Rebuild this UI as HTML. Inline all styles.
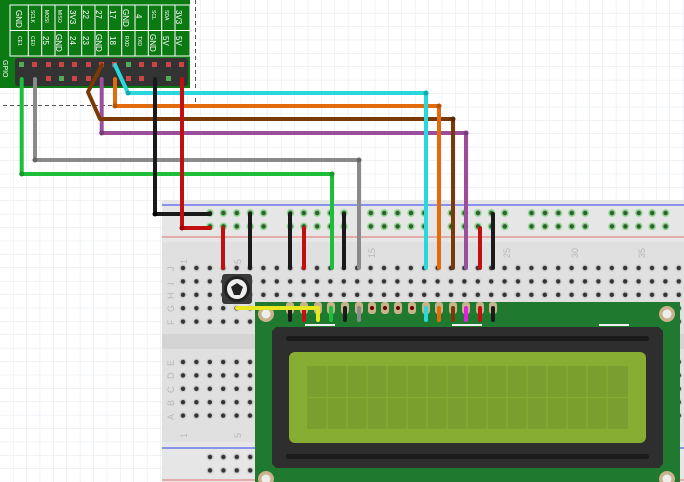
<!DOCTYPE html>
<html><head><meta charset="utf-8"><style>
html,body{margin:0;padding:0;background:#fff;}
svg{display:block;font-family:"Liberation Sans",sans-serif;}
</style></head><body>
<svg width="684" height="482" viewBox="0 0 684 482" xmlns="http://www.w3.org/2000/svg">
<defs>
<pattern id="grid" width="13.4" height="13.4" patternUnits="userSpaceOnUse" x="0" y="0">
<path d="M13.4 0V13.4M0 13.4H13.4" stroke="#e1e6ee" stroke-width="1" fill="none"/>
</pattern>
<pattern id="th1" width="13.4" height="13.4" patternUnits="userSpaceOnUse" x="176.3" y="261.3">
<circle cx="6.7" cy="6.7" r="3.6" fill="#cfcfcf"/><circle cx="6.7" cy="6.7" r="2.2" fill="#333"/>
</pattern>
<pattern id="th2" width="13.4" height="13.4" patternUnits="userSpaceOnUse" x="176.3" y="355.3">
<circle cx="6.7" cy="6.7" r="3.6" fill="#cfcfcf"/><circle cx="6.7" cy="6.7" r="2.2" fill="#333"/>
</pattern>
<pattern id="rail" width="80.4" height="13.4" patternUnits="userSpaceOnUse" x="203.3" y="206.3">
<g fill="#8fd48f"><circle cx="6.7" cy="6.7" r="3.8"/><circle cx="20.1" cy="6.7" r="3.8"/><circle cx="33.5" cy="6.7" r="3.8"/><circle cx="46.9" cy="6.7" r="3.8"/><circle cx="60.3" cy="6.7" r="3.8"/></g>
<g fill="#2d5e2d"><circle cx="6.7" cy="6.7" r="2.2"/><circle cx="20.1" cy="6.7" r="2.2"/><circle cx="33.5" cy="6.7" r="2.2"/><circle cx="46.9" cy="6.7" r="2.2"/><circle cx="60.3" cy="6.7" r="2.2"/></g>
</pattern>
<pattern id="rail2" width="80.4" height="13.4" patternUnits="userSpaceOnUse" x="203.3" y="450.3">
<g fill="#cfcfcf"><circle cx="6.7" cy="6.7" r="3.6"/><circle cx="20.1" cy="6.7" r="3.6"/><circle cx="33.5" cy="6.7" r="3.6"/><circle cx="46.9" cy="6.7" r="3.6"/><circle cx="60.3" cy="6.7" r="3.6"/></g>
<g fill="#333"><circle cx="6.7" cy="6.7" r="2.2"/><circle cx="20.1" cy="6.7" r="2.2"/><circle cx="33.5" cy="6.7" r="2.2"/><circle cx="46.9" cy="6.7" r="2.2"/><circle cx="60.3" cy="6.7" r="2.2"/></g>
</pattern>
</defs>
<rect width="684" height="482" fill="url(#grid)"/>
<path d="M195.5 0V105.5H0" stroke="#555" stroke-dasharray="4,3" fill="none"/>

<!-- Breadboard -->
<rect x="162" y="200" width="522" height="282" fill="#e6e6e6"/>
<line x1="162" y1="205" x2="684" y2="205" stroke="#2a3cf0" stroke-width="1"/>
<line x1="162" y1="237" x2="684" y2="237" stroke="#e27070" stroke-width="1"/>
<rect x="162" y="242" width="522" height="92" fill="#e0e0e0"/>
<rect x="162" y="334" width="522" height="15" fill="#d4d4d4"/>
<rect x="162" y="349" width="522" height="93" fill="#e0e0e0"/>
<line x1="162" y1="448" x2="684" y2="448" stroke="#2a3cf0" stroke-width="1"/>
<line x1="162" y1="480" x2="684" y2="480" stroke="#e27070" stroke-width="1"/>
<rect x="203.3" y="206.3" width="481" height="26.8" fill="url(#rail)"/>
<rect x="203.3" y="450.3" width="481" height="26.8" fill="url(#rail2)"/>
<rect x="176.3" y="261.3" width="508" height="67" fill="url(#th1)"/>
<rect x="176.3" y="355.3" width="508" height="67" fill="url(#th2)"/>
<g fill="#b8b8b8" font-size="9">
<text transform="translate(187,264) rotate(-90)">1</text>
<text transform="translate(241,264) rotate(-90)">5</text>
<text transform="translate(375,258) rotate(-90)">15</text>
<text transform="translate(510,258) rotate(-90)">25</text>
<text transform="translate(578,258) rotate(-90)">30</text>
<text transform="translate(645,258) rotate(-90)">35</text>
<text transform="translate(174,271) rotate(-90)">J</text>
<text transform="translate(174,285) rotate(-90)">I</text>
<text transform="translate(174,299) rotate(-90)">H</text>
<text transform="translate(174,312) rotate(-90)">G</text>
<text transform="translate(174,325) rotate(-90)">F</text>
<text transform="translate(174,366) rotate(-90)">E</text>
<text transform="translate(174,379) rotate(-90)">D</text>
<text transform="translate(174,393) rotate(-90)">C</text>
<text transform="translate(174,406) rotate(-90)">B</text>
<text transform="translate(174,420) rotate(-90)">A</text>
<text transform="translate(187,438) rotate(-90)">1</text>
<text transform="translate(241,438) rotate(-90)">5</text>
</g>

<!-- GPIO board -->
<rect x="0" y="0" width="190" height="88" fill="#0b7a12"/>
<rect x="10" y="5" width="180" height="51" fill="#0b7a12" stroke="#fff" stroke-width="1"/>
<line x1="10" y1="30.5" x2="190" y2="30.5" stroke="#fff"/>
<g stroke="#fff">
<line x1="28.3" y1="5" x2="28.3" y2="56"/><line x1="41.7" y1="5" x2="41.7" y2="56"/><line x1="55" y1="5" x2="55" y2="56"/><line x1="68.3" y1="5" x2="68.3" y2="56"/><line x1="81.7" y1="5" x2="81.7" y2="56"/><line x1="95" y1="5" x2="95" y2="56"/><line x1="108.3" y1="5" x2="108.3" y2="56"/><line x1="121.7" y1="5" x2="121.7" y2="56"/><line x1="135" y1="5" x2="135" y2="56"/><line x1="148.3" y1="5" x2="148.3" y2="56"/><line x1="161.7" y1="5" x2="161.7" y2="56"/><line x1="175" y1="5" x2="175" y2="56"/>
</g>
<g fill="#fff" font-size="8">
<text transform="translate(16,10) rotate(90)">GND</text>
<text transform="translate(31,10) rotate(90)" font-size="5">SCLK</text>
<text transform="translate(45,10) rotate(90)" font-size="5">MOSI</text>
<text transform="translate(58,10) rotate(90)" font-size="5">MISO</text>
<text transform="translate(70,10) rotate(90)">3V3</text>
<text transform="translate(83,10) rotate(90)">22</text>
<text transform="translate(96,10) rotate(90)">27</text>
<text transform="translate(110,10) rotate(90)">17</text>
<text transform="translate(123,9) rotate(90)">GND</text>
<text transform="translate(136,14) rotate(90)">4</text>
<text transform="translate(152,10) rotate(90)" font-size="5">SCL</text>
<text transform="translate(165,10) rotate(90)" font-size="5">SDA</text>
<text transform="translate(176,10) rotate(90)">3V3</text>
<text transform="translate(18,36) rotate(90)" font-size="5">CE1</text>
<text transform="translate(31,36) rotate(90)" font-size="5">CE0</text>
<text transform="translate(43,36) rotate(90)">25</text>
<text transform="translate(56,34) rotate(90)">GND</text>
<text transform="translate(70,36) rotate(90)">24</text>
<text transform="translate(83,36) rotate(90)">23</text>
<text transform="translate(96,34) rotate(90)">GND</text>
<text transform="translate(110,36) rotate(90)">18</text>
<text transform="translate(125,36) rotate(90)" font-size="5">RXD</text>
<text transform="translate(138,36) rotate(90)" font-size="5">TXD</text>
<text transform="translate(150,34) rotate(90)">GND</text>
<text transform="translate(163,36) rotate(90)">5V</text>
<text transform="translate(176,36) rotate(90)">5V</text>
<text transform="translate(3,60) rotate(90)" font-size="7">GPIO</text>
</g>
<rect x="15" y="58" width="173" height="28" rx="3" fill="#333"/>
<g fill="#c44">
<rect x="19" y="62" width="5" height="5" fill="#5a5"/><rect x="32" y="62" width="5" height="5"/><rect x="46" y="62" width="5" height="5"/><rect x="59" y="62" width="5" height="5"/><rect x="72" y="62" width="5" height="5"/><rect x="86" y="62" width="5" height="5"/><rect x="99" y="62" width="5" height="5"/><rect x="112" y="62" width="5" height="5"/><rect x="126" y="62" width="5" height="5" fill="#5a5"/><rect x="139" y="62" width="5" height="5"/><rect x="152" y="62" width="5" height="5"/><rect x="166" y="62" width="5" height="5"/><rect x="179" y="62" width="5" height="5"/>
<rect x="46" y="76" width="5" height="5"/><rect x="59" y="76" width="5" height="5" fill="#5a5"/><rect x="72" y="76" width="5" height="5"/><rect x="86" y="76" width="5" height="5"/><rect x="126" y="76" width="5" height="5"/><rect x="139" y="76" width="5" height="5"/><rect x="166" y="76" width="5" height="5" fill="#5a5"/>
</g>

<g fill="none" stroke-width="4" stroke-linejoin="round" stroke-linecap="round">
<path d="M21.7 79V174H332V268" stroke="#1dbf3a"/>
<path d="M35 79V160H359V268" stroke="#8a8a8a"/>
<path d="M101.7 79V133H466V268" stroke="#9b4f9b"/>
<path d="M101.7 65L88 92L100 119H453V268" stroke="#7a3a08"/>
<path d="M115 79V106H439V268" stroke="#e36b0c"/>
<path d="M115 65L128 93H426V268" stroke="#28d8dc"/>
<path d="M155 79V214H210" stroke="#1a1a1a"/>
<path d="M182 79V228H210" stroke="#c21010"/>
</g>
<g>
<circle cx="21.7" cy="174" r="2.5" fill="#179a2f"/><circle cx="35" cy="160" r="2.5" fill="#666"/><circle cx="101.7" cy="133" r="2.5" fill="#7a3a7a"/><circle cx="115" cy="106" r="2.5" fill="#b55308"/><circle cx="128" cy="93" r="2.5" fill="#1aa"/><circle cx="155" cy="214" r="2.5" fill="#000"/><circle cx="182" cy="228" r="2.5" fill="#900"/>
<circle cx="332" cy="174" r="2.5" fill="#179a2f"/><circle cx="359" cy="160" r="2.5" fill="#666"/><circle cx="466" cy="133" r="2.5" fill="#7a3a7a"/><circle cx="453" cy="119" r="2.5" fill="#5a2a06"/><circle cx="439" cy="106" r="2.5" fill="#b55308"/><circle cx="426" cy="93" r="2.5" fill="#1aa"/>
</g>
<g stroke-width="4" stroke-linecap="round">
<line x1="223" y1="228" x2="223" y2="268" stroke="#c21010"/>
<line x1="250" y1="214" x2="250" y2="268" stroke="#1a1a1a"/>
<line x1="290" y1="214" x2="290" y2="268" stroke="#1a1a1a"/>
<line x1="304" y1="228" x2="304" y2="268" stroke="#c21010"/>
<line x1="344" y1="214" x2="344" y2="268" stroke="#1a1a1a"/>
<line x1="480" y1="228" x2="480" y2="268" stroke="#c21010"/>
<line x1="493" y1="214" x2="493" y2="268" stroke="#1a1a1a"/>
</g>

<!-- LCD -->
<rect x="255" y="302" width="425" height="180" fill="#1f7a30"/>
<g fill="#c9b38a"><circle cx="266" cy="314" r="8"/><circle cx="667" cy="314" r="8"/><circle cx="266" cy="479" r="8"/><circle cx="667" cy="479" r="8"/></g>
<g fill="#eee"><circle cx="266" cy="314" r="4.5"/><circle cx="667" cy="314" r="4.5"/><circle cx="266" cy="479" r="4.5"/><circle cx="667" cy="479" r="4.5"/></g>
<g fill="#eee"><rect x="305" y="324" width="30" height="2"/><rect x="452" y="324" width="30" height="2"/><rect x="599" y="324" width="30" height="2"/></g>
<path d="M276 327H659L663 331V464L659 468H276L272 464V331Z" fill="#2e2e2e"/>
<rect x="286" y="336" width="363" height="5" rx="2.5" fill="#1a1a1a"/>
<rect x="286" y="454" width="363" height="5" rx="2.5" fill="#1a1a1a"/>
<rect x="289" y="352" width="357" height="91" rx="6" fill="#87ad33"/>
<rect x="307" y="366" width="321" height="63" fill="#7a9f2e"/>
<g stroke="#87ad33" stroke-width="1.2">
<path d="M307 397.5H628"/>
<path d="M327 366V429M347 366V429M367 366V429M387 366V429M407 366V429M427 366V429M447 366V429M467 366V429M487 366V429M507 366V429M527 366V429M547 366V429M567 366V429M587 366V429M607 366V429"/>
</g>
<g fill="#c9b38a">
<rect x="286" y="302" width="8" height="12" rx="3"/><rect x="300" y="302" width="8" height="12" rx="3"/><rect x="314" y="302" width="8" height="12" rx="3"/><rect x="327" y="302" width="8" height="12" rx="3"/><rect x="341" y="302" width="8" height="12" rx="3"/><rect x="355" y="302" width="8" height="12" rx="3"/><rect x="368" y="302" width="8" height="12" rx="3"/><rect x="381" y="302" width="8" height="12" rx="3"/><rect x="394" y="302" width="8" height="12" rx="3"/><rect x="408" y="302" width="8" height="12" rx="3"/><rect x="422" y="302" width="8" height="12" rx="3"/><rect x="435" y="302" width="8" height="12" rx="3"/><rect x="449" y="302" width="8" height="12" rx="3"/><rect x="462" y="302" width="8" height="12" rx="3"/><rect x="476" y="302" width="8" height="12" rx="3"/><rect x="489" y="302" width="8" height="12" rx="3"/>
</g>
<g fill="#600"><circle cx="372" cy="308" r="2"/><circle cx="385" cy="308" r="2"/><circle cx="398" cy="308" r="2"/><circle cx="412" cy="308" r="2"/></g>
<g stroke-width="4" stroke-linecap="round">
<line x1="290" y1="308" x2="290" y2="320" stroke="#1a1a1a"/>
<line x1="304" y1="308" x2="304" y2="320" stroke="#c21010"/>
<line x1="318" y1="308" x2="318" y2="320" stroke="#e8e820"/>
<line x1="331" y1="308" x2="331" y2="320" stroke="#1dbf3a"/>
<line x1="345" y1="308" x2="345" y2="320" stroke="#1a1a1a"/>
<line x1="359" y1="308" x2="359" y2="320" stroke="#8a8a8a"/>
<line x1="426" y1="308" x2="426" y2="320" stroke="#28d8dc"/>
<line x1="439" y1="308" x2="439" y2="320" stroke="#e36b0c"/>
<line x1="453" y1="308" x2="453" y2="320" stroke="#7a3a08"/>
<line x1="466" y1="308" x2="466" y2="320" stroke="#e020e0"/>
<line x1="480" y1="308" x2="480" y2="320" stroke="#c21010"/>
<line x1="493" y1="308" x2="493" y2="320" stroke="#1a1a1a"/>
</g>
<rect x="222" y="274" width="30" height="30" rx="3" fill="#3a3a3a"/>
<circle cx="237" cy="289" r="13" fill="#222"/>
<circle cx="237" cy="289" r="10" fill="#eee"/>
<path d="M231 287L237 283L243 287L240 295H234Z" fill="#222"/>
<path d="M237 308H318" stroke="#e8e820" stroke-width="4" stroke-linecap="round"/>
</svg>
</body></html>
